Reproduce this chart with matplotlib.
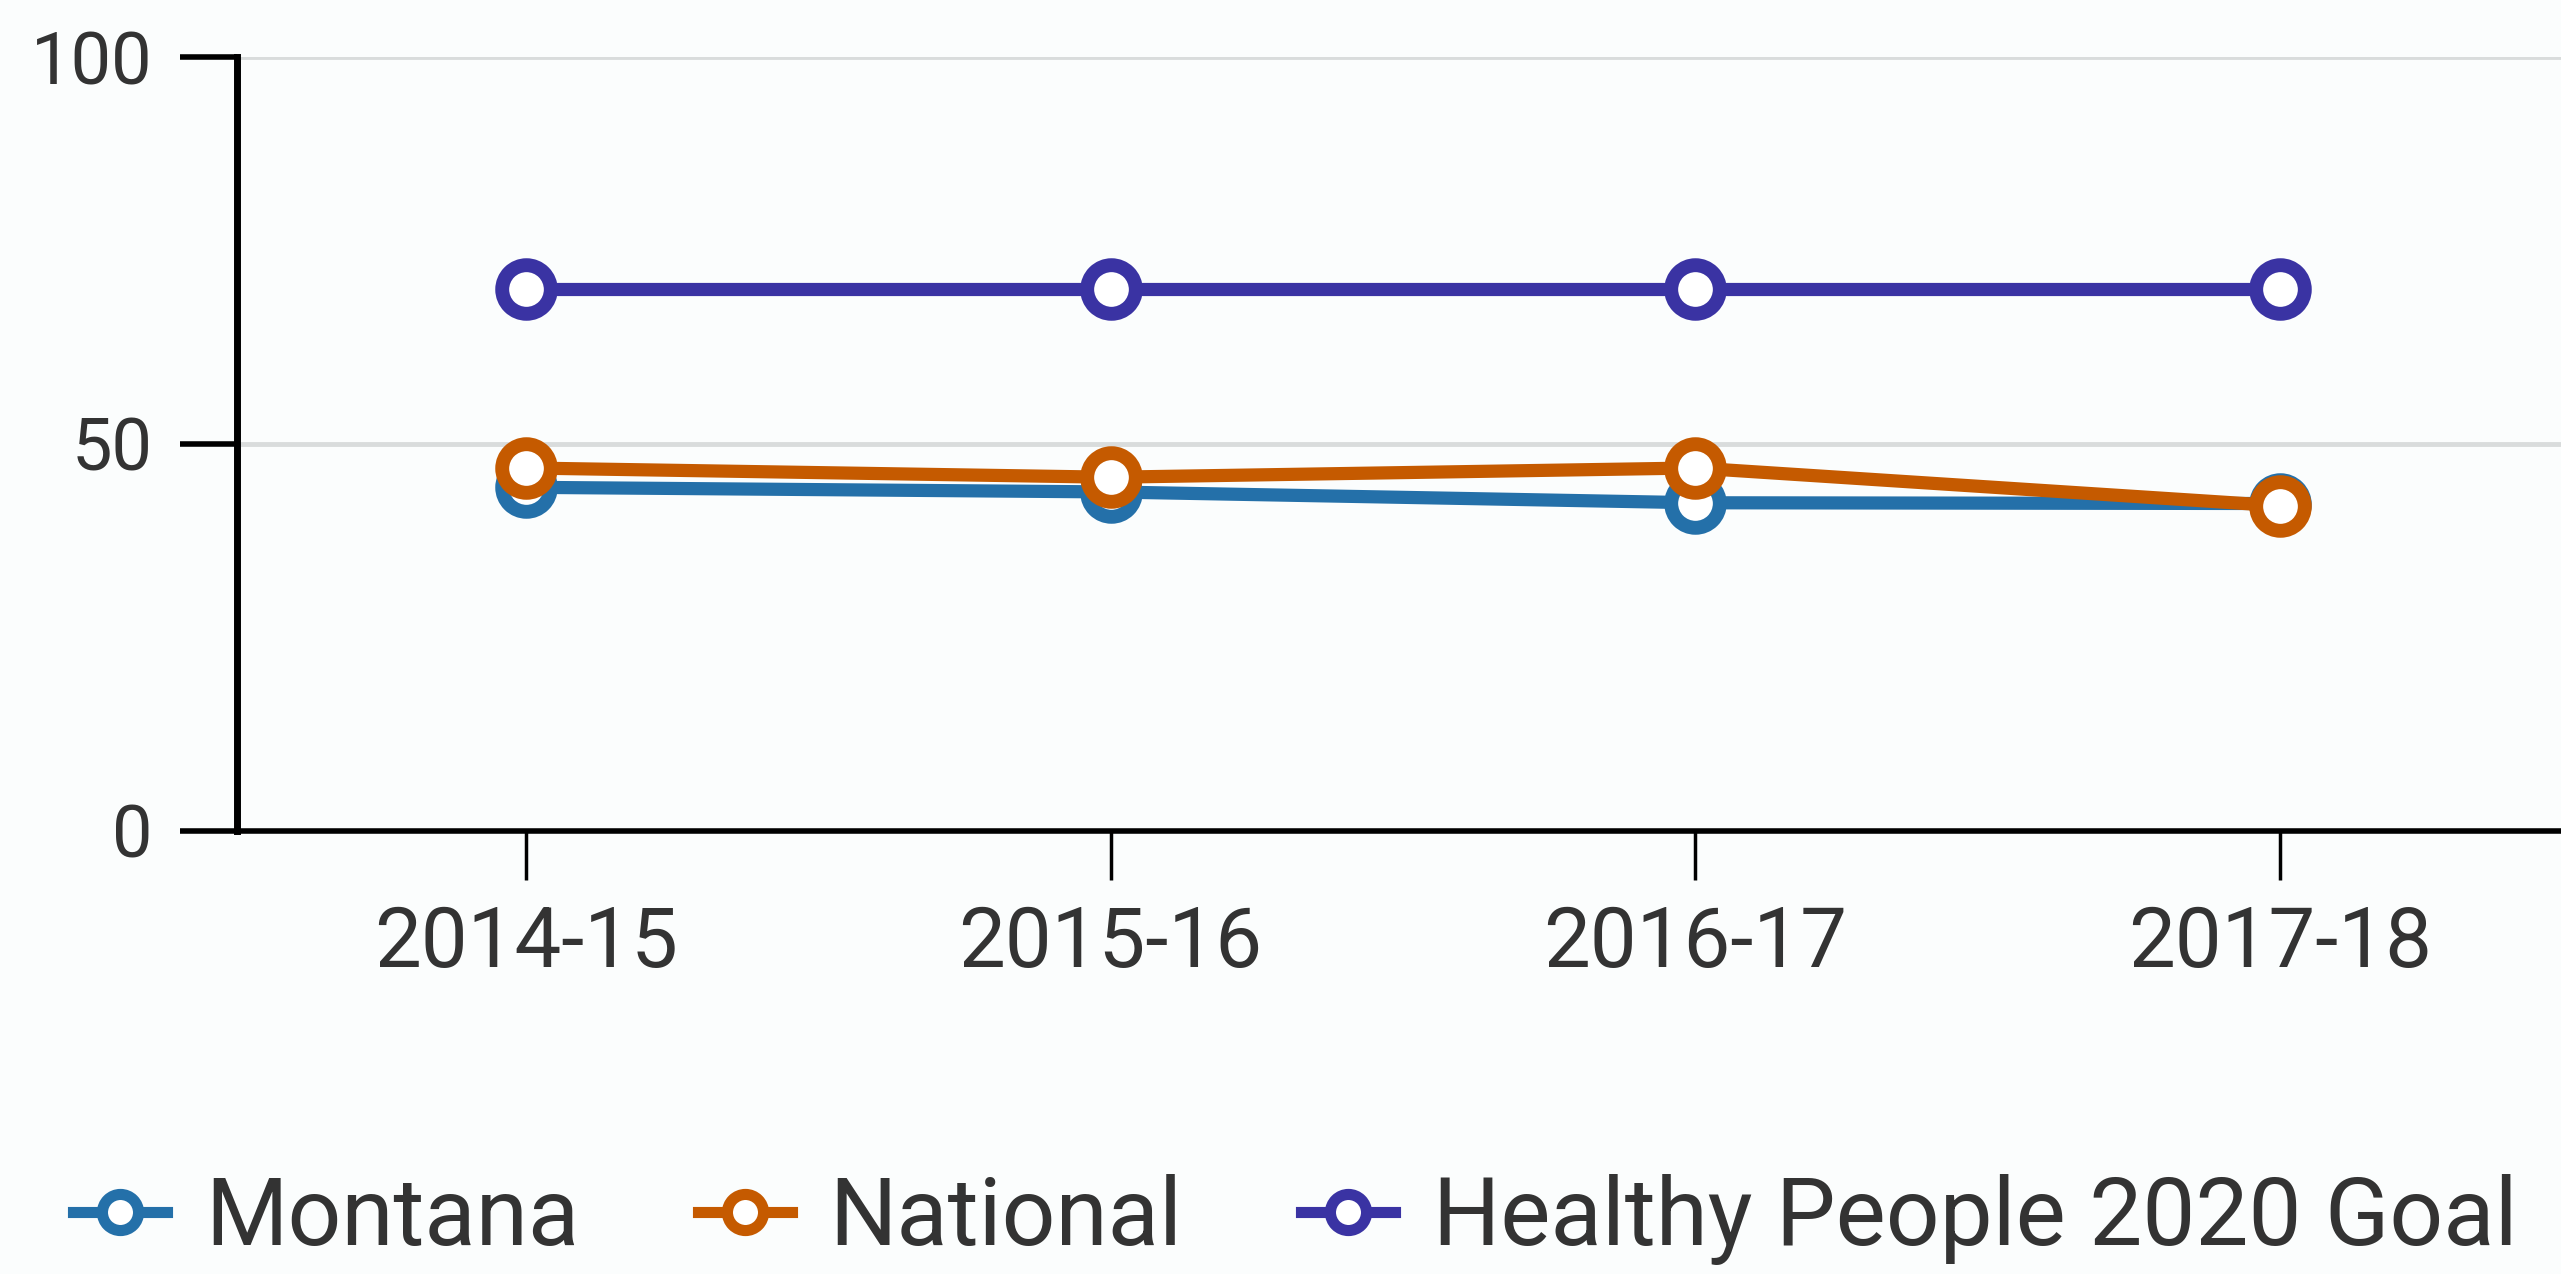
import matplotlib.pyplot as plt
from matplotlib.lines import Line2D

years = ['2014-15', '2015-16', '2016-17', '2017-18']
montana = [44.4, 43.8, 42.4, 42.3]
national = [46.9, 45.7, 46.9, 42.0]
goal = [70, 70, 70, 70]

c_mt = '#2470a9'
c_nat = '#c55a00'
c_goal = '#3a33a3'
txt = '#333333'
bg = '#fbfdfd'

fig = plt.figure(figsize=(25.61, 12.74), dpi=100, facecolor=bg)
ax = fig.add_axes([0.0925, 0.348, 0.9075, 0.607], facecolor=bg)

x = range(len(years))
mk = dict(marker='o', markersize=35, markerfacecolor='white', markeredgewidth=10, lw=9.5,
          solid_capstyle='butt', clip_on=False)
ax.plot(x, montana, color=c_mt, zorder=3, **mk)
ax.plot(x, national, color=c_nat, zorder=4, **mk)
ax.plot(x, goal, color=c_goal, zorder=5, **mk)

ax.set_xlim(-0.494, 3.48)
ax.set_ylim(0, 100)
ax.set_yticks([0, 50, 100])
ax.set_xticks(list(x))
ax.set_xticklabels(years, family='Roboto', fontsize=60, color=txt)
for lab in ax.get_yticklabels():
    lab.set_family('Roboto')
    lab.set_fontsize(52)
    lab.set_color(txt)

ax.grid(axis='y', color='#d9dcdc', lw=3.5, zorder=0)
ax.tick_params(axis='y', length=41, width=4, pad=20, color='black')
ax.tick_params(axis='x', length=35, width=2.5, pad=18, color='black')
for s in ['top', 'right']:
    ax.spines[s].set_visible(False)
ax.spines['left'].set_linewidth(5)
ax.spines['bottom'].set_linewidth(4)

handles = [Line2D([], [], color=c, marker='o', markersize=26, markerfacecolor='white',
                  markeredgewidth=8, lw=8) for c in (c_mt, c_nat, c_goal)]
fig.legend(handles, ['Montana', 'National', 'Healthy People 2020 Goal'],
           loc='center left', bbox_to_anchor=(0.0285, 0.043), ncol=3, frameon=False,
           prop={'family': 'Roboto', 'size': 68}, labelcolor=txt, borderpad=0, borderaxespad=0,
           handlelength=1.0, handletextpad=0.4, columnspacing=1.25)

fig.savefig('out.png', dpi=100, facecolor=bg)
